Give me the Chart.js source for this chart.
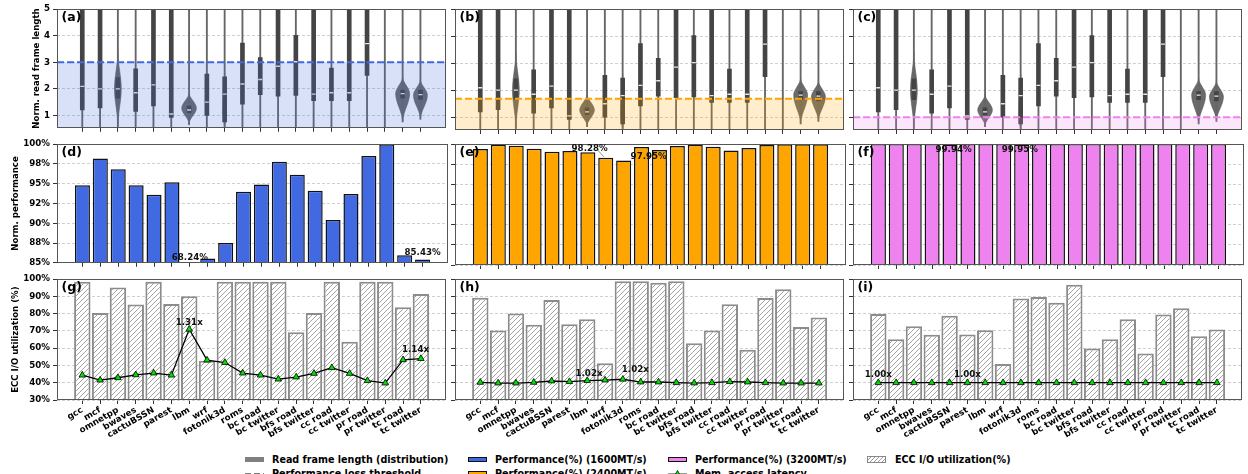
<!DOCTYPE html>
<html>
<head>
<meta charset="utf-8">
<script src="https://cdn.jsdelivr.net/npm/chart.js@4.4.1/dist/chart.umd.min.js"></script>
<style>
  body { margin: 0; background: #fff; width: 1248px; height: 474px; overflow: hidden; position: relative; font-family: "DejaVu Sans", sans-serif; }
  canvas { position: absolute; }
  .leg { position: absolute; font: bold 9.6px "DejaVu Sans"; line-height: 12px; white-space: nowrap; color: #000; }
  .patch { position: absolute; width: 19px; height: 5.5px; box-sizing: border-box; }
  .handle { position: absolute; }
</style>
</head>
<body>

<!-- legend (two rows, second row runs off the bottom of the figure) -->
<div class="patch" style="left:245px;top:456.5px;background:#808080"></div>
<div class="leg" style="left:272px;top:453.5px">Read frame length (distribution)</div>
<svg class="handle" style="left:245px;top:470px" width="20" height="8"><line x1="0" y1="4" x2="19" y2="4" stroke="#808080" stroke-width="2" stroke-dasharray="6,3"/></svg>
<div class="leg" style="left:272px;top:467.5px">Performance loss threshold</div>

<div class="patch" style="left:468px;top:456.5px;background:#4169e1;border:1px solid #111"></div>
<div class="leg" style="left:495px;top:453.5px">Performance(%) (1600MT/s)</div>
<div class="patch" style="left:468px;top:470.5px;background:#ffa500;border:1px solid #111"></div>
<div class="leg" style="left:495px;top:467.5px">Performance(%) (2400MT/s)</div>

<div class="patch" style="left:668px;top:456.5px;background:#ee82ee;border:1px solid #111"></div>
<div class="leg" style="left:695px;top:453.5px">Performance(%) (3200MT/s)</div>
<svg class="handle" style="left:668px;top:469px" width="20" height="10"><line x1="0" y1="5" x2="19" y2="5" stroke="#555" stroke-width="1.2"/><polygon points="9.5,1.5 13,7.5 6,7.5" fill="#00e000" stroke="#000" stroke-width="0.7"/></svg>
<div class="leg" style="left:695px;top:467.5px">Mem. access latency</div>

<div class="patch" style="left:867px;top:456px;height:6.5px;border:1px solid #888;background:repeating-linear-gradient(135deg,#fff 0 2px,#999 2px 2.8px)"></div>
<div class="leg" style="left:895px;top:453.5px">ECC I/O utilization(%)</div>

<script>
// ---- data ----
const benchmarks = ["gcc", "mcf", "omnetpp", "bwaves", "cactuBSSN", "parest", "lbm", "wrf", "fotonik3d", "roms",
  "bc road", "bc twitter", "bfs road", "bfs twitter", "cc road", "cc twitter", "pr road", "pr twitter", "tc road", "tc twitter"];

// normalised read frame length distribution (same trace in all three columns)
const rflMin    = [0.3, 0.3, 0.3, 0.3, 0.3, 0.3, 0.65, 0.3, 0.3, 0.3, 0.3, 0.3, 0.3, 0.3, 0.3, 0.3, 0.3, 0.3, 0.75, 0.85];
const rflQ1     = [1.2, 1.28, 1.65, 1.15, 1.35, 0.92, 1.1, 1.0, 0.75, 1.42, 1.78, 1.72, 1.75, 1.55, 1.55, 1.55, 2.5, 5.5, 1.65, 1.6];
const rflMedian = [2.09, 2.0, 2.0, 1.85, 2.15, 1.05, 1.2, 1.5, 1.8, 2.18, 2.35, 2.85, 3.02, 1.8, 1.85, 1.85, 3.7, 6.5, 1.82, 1.78];
const rflQ3     = [7, 7, 2.42, 2.75, 7, 7, 1.35, 2.55, 2.45, 3.72, 3.18, 7, 4.02, 7, 2.78, 7, 7, 8, 1.95, 1.95];
const rflMax    = [9, 9, 9, 9, 9, 9, 9, 9, 9, 9, 9, 9, 9, 9, 9, 9, 9, 9, 9, 9];
// violin bodies (only visible for a few benchmarks): low end, densest value, high end, half width (in categories)
const violinLow   = [null, null, 0.6, null, null, null, 0.68, null, 0.45, null, null, null, null, null, null, null, null, null, 0.75, 0.85];
const violinPeak  = [null, null, 2.0, null, null, null, 1.27, null, 1.1, null, null, null, null, null, null, null, null, null, 1.82, 1.76];
const violinHigh  = [null, null, 3.4, null, null, null, 1.85, null, 2.6, null, null, null, null, null, null, null, null, null, 2.45, 2.35];
const violinWidth = [null, null, 0.19, null, null, null, 0.41, null, 0.1, null, null, null, null, null, null, null, null, null, 0.39, 0.39];

const thresholds = [3.0, 1.68, 1.0];

const perf1600 = [94.8, 98.19, 96.83, 94.8, 93.6, 95.18, 68.24, 85.54, 87.51, 93.98, 94.89, 97.77, 96.13, 94.1, 90.4, 93.7, 98.52, 99.99, 85.95, 85.43];
const perf2400 = [99.38, 99.92, 99.79, 99.42, 99.05, 99.13, 98.97, 98.28, 97.95, 99.63, 99.26, 99.75, 99.92, 99.67, 99.18, 99.5, 99.88, 99.96, 99.96, 99.96];
const perf3200 = [99.99, 99.99, 99.99, 99.99, 99.94, 99.99, 99.99, 99.99, 99.95, 99.99, 99.99, 99.99, 99.99, 99.99, 99.99, 99.99, 99.99, 99.99, 99.99, 99.99];

const ecc1600 = [98.5, 80.4, 95.2, 85.4, 98.5, 85.6, 90.2, 52.7, 98.5, 98.5, 98.5, 98.5, 69.2, 80.4, 98.5, 63.8, 98.5, 98.5, 83.8, 91.5];
const ecc2400 = [89.2, 70.2, 80, 73.5, 87.9, 73.8, 76.7, 51.2, 98.7, 98.7, 97.9, 98.7, 62.9, 70.2, 85.4, 59, 89, 94, 72.3, 77.7];
const ecc3200 = [79.8, 65.2, 72.7, 67.7, 78.7, 67.9, 70.4, 50.8, 88.7, 89.6, 86.2, 96.7, 59.8, 65.2, 76.7, 56.9, 79.4, 83.1, 66.9, 70.8];

// memory access latency, normalised (x)
const lat1600 = [1.044, 1.015, 1.029, 1.046, 1.056, 1.044, 1.31, 1.131, 1.117, 1.056, 1.044, 1.021, 1.033, 1.054, 1.087, 1.054, 1.012, 0.998, 1.133, 1.14];
const lat2400 = [1.002, 0.998, 0.998, 1.002, 1.01, 1.006, 1.012, 1.015, 1.02, 1.004, 1.004, 1.0, 0.998, 1.0, 1.006, 1.004, 1.0, 0.998, 0.998, 0.998];
const lat3200 = [1, 1, 1, 1, 1, 1, 1, 1, 1, 1, 1, 1, 1, 1, 1, 1, 1, 1, 1, 1];

const rflTicks = [1, 2, 3, 4, 5];
const rflTickLabels = ["1", "2", "3", "4", "5"];
const perfTicks = [85, 87.5, 90, 92.5, 95, 97.5, 100];
const perfTickLabels = ["85%", "88%", "90%", "92%", "95%", "98%", "100%"];
const eccTicks = [30, 40, 50, 60, 70, 80, 90, 100];
const eccTickLabels = ["30%", "40%", "50%", "60%", "70%", "80%", "90%", "100%"];

// value labels written on the panels
const notes = {
  d: [{ x: 6, y: 85.6, text: "68.24%" }, { x: 19, y: 86.3, text: "85.43%" }],
  e: [{ x: 6.1, y: 99.47, text: "98.28%", to: [6.55, 99.25, 6.9, 98.4] }, { x: 9.4, y: 98.45, text: "97.95%" }],
  f: [{ x: 4.2, y: 99.35, text: "99.94%" }, { x: 7.9, y: 99.35, text: "99.95%" }],
  g: [{ x: 6, y: 74.8, text: "1.31x" }, { x: 18.7, y: 58.9, text: "1.14x" }],
  h: [{ x: 6.1, y: 45.4, text: "1.02x" }, { x: 8.7, y: 47.7, text: "1.02x" }],
  i: [{ x: 0, y: 44.8, text: "1.00x" }, { x: 5, y: 44.8, text: "1.00x" }]
};

// ---- layout ----
const X_MIN = -1.42, X_MAX = 20.42;
const COL_L = [57, 455, 853], PLOT_W = 391;
const ROW_T = [9, 144, 279], PLOT_H = 121;
const PAD_TOP = 8, PAD_R = 3;

const speedColors = ["#4169e1", "#ffa500", "#ee82ee"];
const speedFills = ["rgba(65,105,225,0.2)", "rgba(255,165,0,0.2)", "rgba(238,130,238,0.2)"];
const tickFont = { family: "DejaVu Sans", size: 8.7, weight: "bold" };

function hatchPattern() {
  const c = document.createElement("canvas");
  c.width = c.height = 5;
  const g = c.getContext("2d");
  g.fillStyle = "#fff";
  g.fillRect(0, 0, 5, 5);
  g.strokeStyle = "#8a8a8a";
  g.lineWidth = 0.8;
  g.beginPath();
  g.moveTo(0, 5); g.lineTo(5, 0);
  g.moveTo(-1, 1); g.lineTo(1, -1);
  g.moveTo(4, 6); g.lineTo(6, 4);
  g.stroke();
  return g.createPattern(c, "repeat");
}

const violinPlugin = {
  id: "violins",
  beforeDatasetsDraw(chart) {
    const { ctx, scales: { x, y }, chartArea: a } = chart;
    ctx.save();
    ctx.beginPath();
    ctx.rect(a.left, a.top, a.right - a.left, a.bottom - a.top);
    ctx.clip();
    ctx.fillStyle = "#6b6b6b";
    ctx.strokeStyle = "#555";
    ctx.lineWidth = 0.6;
    benchmarks.forEach((_, i) => {
      if (violinWidth[i] == null) return;
      const lo = violinLow[i], pk = violinPeak[i], hi = violinHigh[i], w = violinWidth[i];
      const pts = [];
      for (let k = 0; k <= 40; k++) {
        const v = lo + (hi - lo) * k / 40;
        const t = v <= pk ? (v - lo) / (pk - lo) : (hi - v) / (hi - pk);
        pts.push([v, w * t * t * (3 - 2 * t)]);
      }
      ctx.beginPath();
      pts.forEach(([v, h], k) => {
        const px = x.getPixelForValue(i + h), py = y.getPixelForValue(v);
        if (k) ctx.lineTo(px, py); else ctx.moveTo(px, py);
      });
      for (let k = pts.length - 1; k >= 0; k--) {
        ctx.lineTo(x.getPixelForValue(i - pts[k][1]), y.getPixelForValue(pts[k][0]));
      }
      ctx.closePath();
      ctx.fill();
      ctx.stroke();
    });
    ctx.restore();
  }
};

const decorPlugin = {
  id: "decor",
  afterDraw(chart, args, opts) {
    const { ctx, chartArea: a, scales } = chart;
    ctx.save();
    ctx.strokeStyle = "#555";
    ctx.lineWidth = 1;
    ctx.strokeRect(Math.round(a.left) + 0.5, Math.round(a.top) + 0.5, Math.round(a.right - a.left) - 1, Math.round(a.bottom - a.top) - 1);
    ctx.fillStyle = "#000";
    ctx.font = 'bold 12.5px "DejaVu Sans"';
    ctx.textBaseline = "alphabetic";
    ctx.textAlign = "left";
    ctx.fillText("(" + opts.tag + ")", a.left + 4.5, a.top + 11.5);
    ctx.font = 'bold 8.7px "DejaVu Sans"';
    ctx.textAlign = "center";
    ctx.textBaseline = "middle";
    (notes[opts.tag] || []).forEach(n => {
      ctx.fillStyle = "#111";
      ctx.fillText(n.text, scales.x.getPixelForValue(n.x), scales.y.getPixelForValue(n.y));
      if (n.to) {
        ctx.strokeStyle = "#777";
        ctx.lineWidth = 0.8;
        ctx.beginPath();
        ctx.moveTo(scales.x.getPixelForValue(n.to[0]), scales.y.getPixelForValue(n.to[1]));
        ctx.lineTo(scales.x.getPixelForValue(n.to[2]), scales.y.getPixelForValue(n.to[3]));
        ctx.stroke();
      }
    });
    ctx.restore();
  }
};

function xAxis(showLabels, height) {
  return {
    type: "linear", min: X_MIN, max: X_MAX, bounds: "data", offset: false,
    afterBuildTicks: s => { s.ticks = benchmarks.map((_, i) => ({ value: i })); },
    ticks: { display: showLabels, autoSkip: false, minRotation: 30, maxRotation: 30, padding: 1, color: "#000", font: tickFont,
      callback: v => benchmarks[v] },
    grid: { offset: false, drawOnChartArea: false, tickLength: 4, tickColor: "#333", tickWidth: 1 },
    border: { display: false },
    afterFit: s => { s.height = height; }
  };
}

function yAxis(min, max, tickValues, tickLabels, showLabels, title, width) {
  return {
    type: "linear", min, max, bounds: "data",
    afterBuildTicks: s => { s.ticks = tickValues.map(v => ({ value: v })); },
    ticks: { display: showLabels, padding: 3, color: "#000", font: tickFont, callback: (v, i) => tickLabels[i] },
    grid: { color: "#c4c4c4", lineWidth: 0.8, tickLength: 4, tickColor: "#333", tickWidth: 1 },
    border: { display: false, dash: [3, 2] },
    title: { display: !!title, text: title, color: "#000", font: { family: "DejaVu Sans", size: 8.6, weight: "bold" }, padding: { top: 0, bottom: 0 } },
    afterFit: s => { s.width = width; }
  };
}

function makePanel(row, col) {
  const tag = "abcdefghi"[row * 3 + col];
  const yw = col === 0 ? (row === 0 ? 25 : 46) : 6;
  const xh = row === 2 ? 62 : 6;
  const canvas = document.createElement("canvas");
  canvas.width = yw + PLOT_W + PAD_R;
  canvas.height = PAD_TOP + PLOT_H + xh;
  canvas.style.left = (COL_L[col] - yw) + "px";
  canvas.style.top = (ROW_T[row] - PAD_TOP) + "px";
  document.body.appendChild(canvas);

  let datasets, scales;
  const plugins = [decorPlugin];
  if (row === 0) {
    plugins.unshift(violinPlugin);
    datasets = [
      { type: "line", data: [{ x: X_MIN, y: thresholds[col] }, { x: X_MAX, y: thresholds[col] }],
        borderColor: speedColors[col], borderWidth: 2, borderDash: [7, 3], pointRadius: 0,
        fill: "start", backgroundColor: speedFills[col], order: 0 },
      { type: "line", data: rflMedian, showLine: false, pointStyle: "line", pointRadius: 2,
        pointBorderColor: "#e6e6e6", pointBorderWidth: 1.3, order: 1 },
      { type: "bar", data: rflQ1.map((q, i) => [q, rflQ3[i]]), barThickness: 4, backgroundColor: "#444", grouped: false, order: 2 },
      { type: "bar", data: rflMin.map((m, i) => [m, rflMax[i]]), barThickness: 1.2, backgroundColor: "#666", grouped: false, order: 3 }
    ];
    scales = { x: xAxis(false, xh), y: yAxis(0.53, 5, rflTicks, rflTickLabels, col === 0, col === 0 ? "Norm. read frame length" : "", yw) };
  } else if (row === 1) {
    datasets = [
      { type: "bar", data: [perf1600, perf2400, perf3200][col], backgroundColor: speedColors[col],
        borderColor: "#111", borderWidth: 1.5, categoryPercentage: 0.84, barPercentage: 1, borderSkipped: false }
    ];
    scales = { x: xAxis(false, xh), y: yAxis(85, 100, perfTicks, perfTickLabels, col === 0, col === 0 ? "Norm. performance" : "", yw) };
  } else {
    datasets = [
      { type: "line", data: [lat1600, lat2400, lat3200][col], yAxisID: "y2", borderColor: "#000", borderWidth: 1.3,
        tension: 0, pointStyle: "triangle", pointRadius: 3.8, pointBackgroundColor: "#00e000",
        pointBorderColor: "#000", pointBorderWidth: 0.8, order: 0 },
      { type: "bar", data: [ecc1600, ecc2400, ecc3200][col], backgroundColor: hatchPattern(),
        borderColor: "#8c8c8c", borderWidth: 2, categoryPercentage: 0.92, barPercentage: 1, order: 1 }
    ];
    scales = {
      x: xAxis(true, xh),
      y: yAxis(30, 100, eccTicks, eccTickLabels, col === 0, col === 0 ? "ECC I/O utilization (%)" : "", yw),
      y2: { type: "linear", display: false, min: 0.9, max: 1.6 }
    };
  }

  new Chart(canvas, {
    type: "bar",
    data: { labels: benchmarks.map((_, i) => i), datasets },
    options: {
      responsive: false,
      animation: false,
      devicePixelRatio: 1,
      layout: { padding: { top: PAD_TOP, right: PAD_R, left: 0, bottom: 0 } },
      scales,
      plugins: { legend: { display: false }, tooltip: { enabled: false }, decor: { tag } }
    },
    plugins
  });
}

for (let r = 0; r < 3; r++) {
  for (let c = 0; c < 3; c++) makePanel(r, c);
}
</script>
</body>
</html>
